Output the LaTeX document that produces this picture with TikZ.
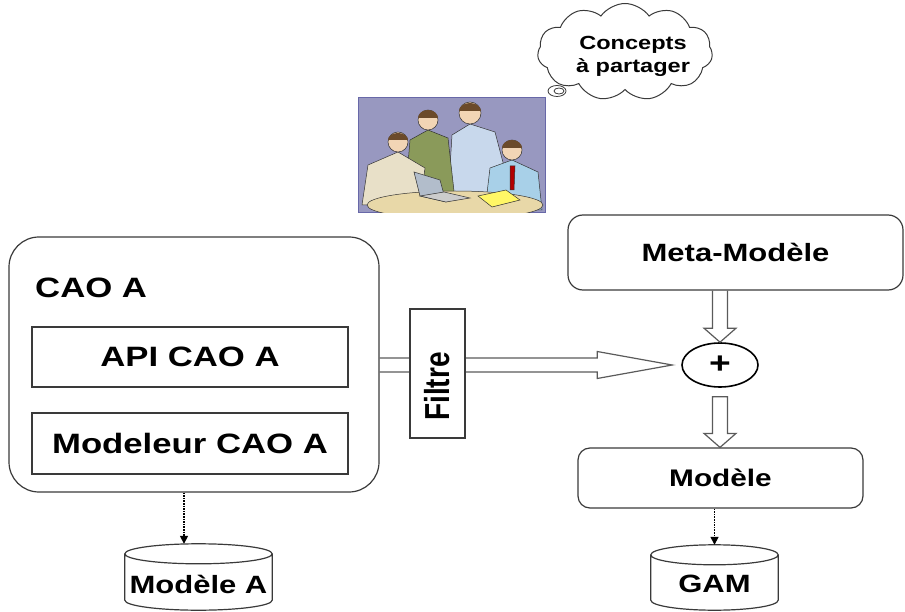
\documentclass[tikz,border=0pt]{standalone}
\usepackage{fontspec}
\setmainfont{Liberation Sans}[FakeStretch=1.24]
\newfontfamily\droitsans{Liberation Sans}
\usetikzlibrary{shapes.geometric,shapes.symbols,arrows.meta,calc}

\definecolor{trait}{HTML}{3A3A3A}
\definecolor{fleche}{HTML}{5A5A5A}
\definecolor{fondimg}{RGB}{152,152,192}
\definecolor{cadreimg}{RGB}{104,104,168}
\definecolor{peau}{HTML}{F2D5B5}
\definecolor{cheveux}{HTML}{6B4A2A}
\definecolor{beige}{HTML}{E8E0C8}
\definecolor{veste}{HTML}{8A9A5A}
\definecolor{chemise}{HTML}{C8D8EC}
\definecolor{bleuclair}{HTML}{A8D0E8}
\definecolor{plateau}{HTML}{E8D8A8}

\tikzset{
  cadre/.style={draw=trait, line width=1.2pt, inner sep=0pt},
  gras/.style={font=\fontsize{#1}{#1}\selectfont\bfseries},
  base/.style={inner sep=0pt, text depth=0pt},
  bloc/.style={draw=fleche, line width=1.2pt, line join=miter},
  pointille/.style={densely dotted, line width=1.6pt, -{Triangle[length=8pt,width=8pt]}},
  dessin/.style={draw=black!80, line width=0.5pt}
}

% tambour (base de donnees) autour d'un noeud
\newcommand\tambour[1]{%
  \draw[trait, line width=1.2pt] let \p1=($(#1.east)-(#1.west)$), \n1={0.5*\x1} in
    ([yshift=-10pt]#1.north) ellipse [x radius=\n1, y radius=10pt]
    ([yshift=-10pt]#1.north west) -- ([yshift=10pt]#1.south west)
    arc [start angle=180, end angle=360, x radius=\n1, y radius=10pt]
    -- ([yshift=-10pt]#1.north east);}

\begin{document}
\begin{tikzpicture}[x=1pt,y=-1pt]
\useasboundingbox (0,0) rectangle (905,612);

% scene de travail en groupe
\node[draw=cadreimg, fill=fondimg, line width=1pt, minimum width=187pt, minimum height=115pt, inner sep=0pt] (reunion) at (451.5,155.5) {};
\begin{scope}
  \clip (358,98) rectangle (545,213);
  % debout au centre
  \filldraw[dessin, fill=chemise] (448,200) -- (452,135) -- (470,124) -- (495,132) -- (505,170) -- (490,200) -- cycle;
  \filldraw[dessin, fill=peau] (470,113) circle (11pt);
  \fill[cheveux] (459,111) arc (180:0:11pt and 8pt) -- cycle;
  % veste verte
  \filldraw[dessin, fill=veste] (405,200) -- (410,140) -- (428,130) -- (448,138) -- (455,200) -- cycle;
  \filldraw[dessin, fill=peau] (428,120) circle (10pt);
  \fill[cheveux] (418,118) arc (180:0:10pt and 8pt) -- cycle;
  % a gauche
  \filldraw[dessin, fill=beige] (362,205) -- (368,165) -- (398,152) -- (425,168) -- (420,205) -- cycle;
  \filldraw[dessin, fill=peau] (398,142) circle (10pt);
  \fill[cheveux] (388,140) arc (180:0:10pt and 7pt) -- cycle;
  % a droite
  \filldraw[dessin, fill=bleuclair] (485,210) -- (490,168) -- (512,160) -- (538,172) -- (542,210) -- cycle;
  \filldraw[dessin, fill=red!70!black] (510,166) -- (515,166) -- (514,190) -- (510,190) -- cycle;
  \filldraw[dessin, fill=peau] (512,150) circle (10pt);
  \fill[cheveux] (502,148) arc (180:0:10pt and 8pt) -- cycle;
  % table, portable, cahier
  \filldraw[dessin, fill=plateau] (455,205) ellipse [x radius=88pt, y radius=14pt];
  \filldraw[dessin, fill=chemise!70!gray] (414,172) -- (440,180) -- (446,202) -- (420,196) -- cycle;
  \filldraw[dessin, fill=gray!40] (420,196) -- (446,202) -- (470,198) -- (444,192) -- cycle;
  \filldraw[dessin, fill=yellow!60] (478,196) -- (506,190) -- (520,200) -- (492,207) -- cycle;
\end{scope}

% bulle de pensee
\node[cloud, cloud puffs=11, cloud puff arc=110, aspect=1.8, draw=trait, line width=1pt, minimum width=175pt, minimum height=97pt, inner sep=0pt] (nuage) at (625,52) {};
\node[font=\fontsize{19}{23}\selectfont\bfseries, align=center, inner sep=0pt] (idee) at (633,56) {Concepts\\à partager};
\draw[trait, line width=0.8pt] (557,91) ellipse [x radius=9pt, y radius=5.5pt];
\draw[trait, line width=0.8pt] (559,91) ellipse [x radius=5pt, y radius=3pt];

% outil CAO A
\node[cadre, rounded corners=30pt, minimum width=370pt, minimum height=255pt] (caoA) at (194,364.5) {};
\node[gras=28, anchor=west, inner sep=0pt] (titreA) at (35,288) {CAO A};
\node[cadre, gras=28, minimum width=316pt, minimum height=60pt] (api) at (190,357) {API CAO A};
\node[cadre, gras=28, minimum width=316pt, minimum height=61pt] (modeleur) at (190,443.5) {Modeleur CAO A};

% cote modele
\node[cadre, rounded corners=15pt, minimum width=335pt, minimum height=75pt, gras=25] (meta) at (735.5,252.5) {Meta-Modèle};
\node[draw=black, line width=1.6pt, ellipse, minimum width=76pt, minimum height=44pt, inner sep=0pt, font=\fontsize{30}{30}\selectfont\bfseries] (plus) at (720,365) {+};
\node[cadre, rounded corners=12pt, minimum width=285pt, minimum height=60pt, gras=24] (modele) at (720.5,478) {Modèle};

% bases
\node[base, gras=25, text height=32pt, minimum width=147pt, minimum height=66pt] (mA) at (198.5,577) {Modèle A};
\node[base, gras=25, text height=30pt, minimum width=127pt, minimum height=65pt] (gam) at (714.5,577.5) {GAM};
\tambour{mA}
\tambour{gam}

% fleches creuses
\coordinate (pointeH) at ([xshift=-9pt]plus.west);
\draw[bloc] ($(caoA.east |- plus.west)+(0,-7)$) -- ($(pointeH)+(-75,-7)$) -- ($(pointeH)+(-75,-13.5)$) -- (pointeH)
  -- ($(pointeH)+(-75,13.5)$) -- ($(pointeH)+(-75,7)$) -- ($(caoA.east |- plus.west)+(0,7)$);
\draw[bloc] ($(meta.south -| plus.north)+(-7.5,0)$) -- ($(plus.north)+(-7.5,-14)$) -- ($(plus.north)+(-16,-14)$) -- (plus.north)
  -- ($(plus.north)+(16,-14)$) -- ($(plus.north)+(7.5,-14)$) -- ($(meta.south -| plus.north)+(7.5,0)$);
\coordinate (pointeB) at (plus.south |- modele.north);
\draw[bloc] ($(plus.south)+(-7.5,9)$) -- ($(pointeB)+(-7.5,-14)$) -- ($(pointeB)+(-16,-14)$) -- (pointeB)
  -- ($(pointeB)+(16,-14)$) -- ($(pointeB)+(7.5,-14)$) -- ($(plus.south)+(7.5,9)$) -- cycle;

% filtre pose sur la fleche
\node[cadre, fill=white, minimum width=55pt, minimum height=129pt] (filtre) at (437.5,373.5) {};
\node[rotate=90, inner sep=0pt] (filtreTxt) at ([yshift=-13pt]filtre.center) {\scalebox{1}[1.24]{\droitsans\fontsize{28}{28}\selectfont\bfseries Filtre}};

% liens vers les bases
\draw[pointille] ([xshift=-10pt]caoA.south) -- ([xshift=-10pt]caoA.south |- mA.north);
\draw[pointille] (modele.south -| gam.north) -- (gam.north);
\end{tikzpicture}
\end{document}
